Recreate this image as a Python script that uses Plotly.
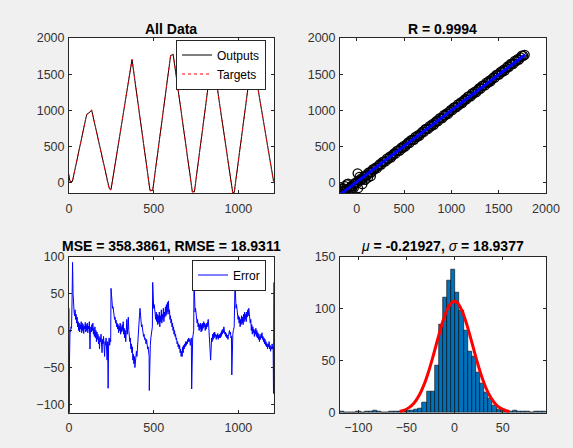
import plotly.graph_objects as go

# ---------------- data ----------------
# All Data: sample index vs. targets / outputs (vertices)
TS_X = [0, 6, 20, 104, 134, 238, 248, 372, 478, 494, 600, 615, 728, 740, 846, 966, 975, 1082, 1207, 1210]
TARGETS = [120, 15, 15, 947, 1007, -95, -95, 1706, -110, -110, 1765, 1780, -129, -129, 1780, -140, -140, 1770, 18, 60]
OUTPUTS = [90, 20, 18, 940, 1000, -80, -90, 1700, -100, -105, 1760, 1770, -120, -125, 1770, -130, -135, 1760, 30, 20]

# Error series: (sample index, error)
ERROR_SAMPLES = [
    (0, 30), (1, -111), (3, -40), (6, 0), (9, -2), (12, 5), (15, 3), (18, 40), (21, 92), (24, 50), (27, 30),
    (30, 25), (33, 20), (36, 28), (39, 15), (42, 22), (45, 10), (48, 18), (51, 5), (54, 12), (57, 0), (60, 10),
    (63, -2), (66, 8), (69, 2), (72, 12), (75, -3), (78, 10), (81, 0), (84, 8), (87, -4), (90, 6), (93, 2),
    (96, 11), (99, -2), (102, 8), (105, 0), (108, 10), (111, -3), (114, 6), (117, 2), (120, 12), (123, -8),
    (124, -25), (126, -5), (129, 5), (132, -2), (135, 8), (138, 0), (141, 10), (144, -5), (147, 3), (150, -8),
    (153, 5), (156, -10), (159, 0), (162, -15), (165, -2), (168, -12), (171, -5), (174, -18), (177, -8),
    (180, -25), (183, -10), (186, -15), (189, -5), (192, -20), (195, -30), (198, -12), (201, -18), (204, -8),
    (207, -22), (210, -35), (213, -15), (216, -20), (219, -10), (222, -25), (225, -40), (228, -15), (231, -78),
    (234, -18), (237, -10), (240, -20), (243, -12), (246, -15), (248, 57),
    (251, 45), (254, 38), (257, 30), (260, 32), (263, 22), (266, 25), (269, 15), (272, 18), (275, 10), (278, 14),
    (281, 5), (284, 10), (287, 2), (290, 8), (293, -3), (296, 6), (299, 0), (302, 10), (305, -5), (308, 5),
    (311, -2), (314, 8), (317, 0), (320, 12), (323, -5), (326, 3), (329, -10), (332, 0), (335, -15), (338, 5),
    (341, 15), (344, -5), (347, 10), (350, 18), (353, 0), (356, -8), (359, -15), (362, -10), (365, -25),
    (368, -18), (371, -30), (374, -22), (377, -40), (380, -32), (383, -45), (386, -35), (389, -50), (392, -38),
    (395, -42), (398, -28), (401, -35), (404, -20), (407, -25), (410, -10), (413, 5), (416, 20), (419, 30),
    (422, 18), (425, 12), (428, 5), (431, 8), (434, -2), (437, 0), (440, -8), (443, -5), (446, -12), (449, -10),
    (452, -15), (455, -18), (458, -12), (461, -20), (464, -25), (467, -22), (470, -30), (473, -35), (474, -81),
    (477, -25), (480, -20), (483, -10), (486, -5), (489, 0), (492, 5), (494, 65),
    (497, 40), (500, 30), (503, 35), (506, 22), (509, 28), (512, 15), (515, 25), (518, 12), (521, 22), (524, 8),
    (527, 20), (530, 10), (533, 25), (536, 5), (539, 20), (542, 12), (545, 28), (548, 10), (551, 22), (554, 15),
    (557, 30), (560, 12), (563, 25), (566, 18), (569, 32), (572, 20), (575, 35), (578, 22), (581, 38), (584, 25),
    (587, 40), (590, 22), (593, 28), (596, 15), (599, 20), (602, 10), (605, 15), (608, 5), (611, 10), (614, 0),
    (617, 5), (620, -5), (623, 0), (626, -8), (629, -5), (632, -12), (635, -10), (638, -18), (641, -15),
    (644, -22), (647, -18), (650, -25), (653, -20), (656, -30), (659, -25), (662, -35), (665, -28), (668, -35),
    (671, -22), (674, -30), (677, -20), (680, -25), (683, -18), (686, -22), (689, -15), (692, -20), (695, -15),
    (698, -18), (701, -12), (704, -15), (707, -10), (710, -15), (713, -12), (716, -20), (719, -15), (722, -10),
    (724, -79), (727, -20), (730, -10), (733, -5), (736, 0), (738, 70),
    (741, 40), (744, 25), (747, 30), (750, 18), (753, 22), (756, 10), (759, 15), (762, 5), (765, 10), (768, 0),
    (771, 8), (774, 2), (777, 10), (780, -2), (783, 8), (786, 0), (789, 10), (792, 3), (795, 12), (798, 5),
    (801, 10), (804, 0), (807, 8), (810, 2), (813, 10), (816, 5), (819, 12), (822, 15), (825, 5), (828, -10),
    (831, -20), (834, -30), (836, -40), (839, -25), (842, -10), (845, -15), (848, -5), (851, -12), (854, -3),
    (857, -10), (860, -2), (863, -8), (866, -5), (869, -12), (872, -6), (875, -10), (878, -4), (881, -12),
    (884, -6), (887, -10), (890, -5), (893, -10), (896, -3), (899, -8), (902, 0), (905, -5), (908, 2), (911, -3),
    (914, 5), (917, 0), (920, -5), (923, -2), (926, -8), (929, -4), (932, -10), (935, -6), (938, -12), (941, -8),
    (944, -5), (947, 0), (950, -5), (953, -2), (956, -10), (959, -8), (961, -60), (964, -10), (967, -5),
    (970, 0), (975, 5), (980, 65),
    (983, 40), (986, 30), (989, 35), (992, 22), (995, 28), (998, 15), (1001, 20), (1004, 10), (1007, 18),
    (1010, 5), (1013, 15), (1016, 8), (1019, 20), (1022, 10), (1025, 18), (1028, 8), (1031, 22), (1034, 12),
    (1037, 25), (1040, 15), (1043, 22), (1046, 12), (1049, 25), (1052, 18), (1055, 28), (1058, 20), (1061, 30),
    (1064, 18), (1067, 22), (1070, 10), (1073, 15), (1076, 0), (1079, 8), (1082, -5), (1085, 5), (1088, -3),
    (1091, 2), (1094, -8), (1097, 0), (1100, -5), (1103, 3), (1106, -8), (1109, 0), (1112, -10), (1115, -3),
    (1118, -12), (1121, -5), (1124, -15), (1127, -8), (1130, -12), (1133, -5), (1136, -10), (1139, -3),
    (1142, -12), (1145, -8), (1148, -15), (1151, -10), (1154, -18), (1157, -12), (1160, -20), (1163, -15),
    (1166, -22), (1169, -18), (1172, -25), (1175, -18), (1178, -22), (1181, -15), (1184, -25), (1187, -20),
    (1190, -28), (1193, -22), (1196, -25), (1199, -18), (1202, -25), (1205, -22), (1207, -85), (1209, 65),
]
ERR_X = [p[0] for p in ERROR_SAMPLES]
ERR_Y = [p[1] for p in ERROR_SAMPLES]

# Regression: targets vs outputs
REG_TARGETS = [
    -160, -145, -130, -115, -100, -85, -70, -55, -40, -25, -10, 5, 20, 35, 50, 65, 80, 95, 110, 125,
    140, 155, 170, 185, 200, 215, 230, 245, 260, 275, 290, 305, 320, 335, 350, 365, 380, 395, 410, 425,
    440, 455, 470, 485, 500, 515, 530, 545, 560, 575, 590, 605, 620, 635, 650, 665, 680, 695, 710, 725,
    740, 755, 770, 785, 800, 815, 830, 845, 860, 875, 890, 905, 920, 935, 950, 965, 980, 995, 1010, 1025,
    1040, 1055, 1070, 1085, 1100, 1115, 1130, 1145, 1160, 1175, 1190, 1205, 1220, 1235, 1250, 1265, 1280,
    1295, 1310, 1325, 1340, 1355, 1370, 1385, 1400, 1415, 1430, 1445, 1460, 1475, 1490, 1505, 1520, 1535,
    1550, 1565, 1580, 1595, 1610, 1625, 1640, 1655, 1670, 1685, 1700, 1715, 1730, 1745, 1760, 1775,
    -90, -105, -125, -138, -60, -30, 15, 10, 150, 120, -50, 60, -150, -120, 30, 90]
REG_OUTPUTS = [
    -154, -156, -117, -120, -91, -99, -67, -44, -48, -11, -4, -6, 33, 30, 59, 51, 83, 106, 102, 139,
    146, 144, 183, 180, 209, 201, 233, 256, 252, 289, 296, 294, 333, 330, 359, 351, 383, 406, 402, 439,
    446, 444, 483, 480, 509, 501, 533, 556, 552, 589, 596, 594, 633, 630, 659, 651, 683, 706, 702, 739,
    746, 744, 783, 780, 809, 801, 833, 856, 852, 889, 896, 894, 933, 930, 959, 951, 983, 1006, 1002, 1039,
    1046, 1044, 1083, 1080, 1109, 1101, 1133, 1156, 1152, 1189, 1196, 1194, 1233, 1230, 1259, 1251, 1283,
    1306, 1302, 1339, 1346, 1344, 1383, 1380, 1409, 1401, 1433, 1456, 1452, 1489, 1496, 1494, 1533, 1530,
    1559, 1551, 1583, 1606, 1602, 1639, 1646, 1644, 1683, 1680, 1709, 1701, 1733, 1756, 1752, 1768,
    -12, -24, -46, -78, -110, -70, -75, 130, 90, 70, -100, -20, -125, -90, 80, 40]
FIT_X = [-170, 1780]
FIT_Y = [-158, 1768]

# Histogram of errors (50 bins)
HIST_LEFT = -119.0
HIST_WIDTH = 4.28
HIST_COUNTS = [1, 0, 0, 0, 1, 0, 1, 1, 2, 1, 0, 0, 1, 1, 1, 1, 2, 2, 3, 4,
               10, 20, 20, 45, 85, 111, 127, 138, 115, 98, 79, 59, 54, 39, 28, 19, 14, 7, 3, 3,
               1, 1, 2, 1, 1, 1, 0, 1, 1, 1]
HIST_CENTERS = [HIST_LEFT + HIST_WIDTH * (k + 0.5) for k in range(len(HIST_COUNTS))]
# fitted normal curve
PDF_X = [-57, -52, -47, -42, -37, -32, -27, -22, -17, -12, -7, -2, 0, 3, 8, 13, 18, 23, 28, 33, 38, 43, 48, 53, 57]
PDF_Y = [1.2, 2.5, 5.1, 9.4, 16.2, 26.2, 39.4, 55.2, 72.3, 88.2, 100.4, 106.5, 107, 105.5, 97.4, 83.9, 67.4,
         50.5, 35.3, 23.0, 14.0, 7.9, 4.2, 2.1, 1.1]

TITLES = ["All Data", "R = 0.9994", "MSE = 358.3861, RMSE = 18.9311"]
MU_TXT = "-0.21927"
SIGMA_TXT = "18.9377"

# ---------------- figure ----------------
W, H = 573, 448
FONT = "Arial, 'Liberation Sans', Helvetica, sans-serif"
TICKFONT = dict(family=FONT, size=12.5, color="#333333")


def px_x(p):
    return p / W


def px_y(p):
    return 1 - p / H


def axis(domain, rng, tickvals, anchor, standoff):
    return dict(domain=domain, range=rng, tickvals=tickvals, anchor=anchor, automargin=False,
                showline=True, linecolor="#262626", linewidth=1, mirror="ticks",
                ticks="inside", ticklen=3, tickcolor="#262626", tickwidth=1, ticklabelstandoff=standoff,
                showgrid=False, zeroline=False, tickfont=TICKFONT, fixedrange=True)


fig = go.Figure()

# All Data
fig.add_trace(go.Scatter(x=TS_X, y=OUTPUTS, mode="lines", name="Outputs",
                         line=dict(color="black", width=1), xaxis="x", yaxis="y", legend="legend"))
fig.add_trace(go.Scatter(x=TS_X, y=TARGETS, mode="lines", name="Targets",
                         line=dict(color="#ff0000", width=1, dash="dot"), xaxis="x", yaxis="y", legend="legend"))

# Regression
fig.add_trace(go.Scatter(x=REG_TARGETS, y=REG_OUTPUTS, mode="markers", showlegend=False,
                         marker=dict(symbol="circle-open", size=9, color="black", line=dict(width=1.3)),
                         xaxis="x2", yaxis="y2"))
fig.add_trace(go.Scatter(x=FIT_X, y=FIT_Y, mode="lines", showlegend=False,
                         line=dict(color="#0000ff", width=3), xaxis="x2", yaxis="y2"))

# Error
fig.add_trace(go.Scatter(x=ERR_X, y=ERR_Y, mode="lines", name="Error",
                         line=dict(color="#0000ff", width=1), xaxis="x3", yaxis="y3", legend="legend2"))

# Histogram
fig.add_trace(go.Bar(x=HIST_CENTERS, y=HIST_COUNTS, width=HIST_WIDTH, showlegend=False,
                     marker=dict(color="#0072bd", line=dict(color="black", width=0.6)),
                     xaxis="x4", yaxis="y4"))
fig.add_trace(go.Scatter(x=PDF_X, y=PDF_Y, mode="lines", showlegend=False, line_shape="spline",
                         line=dict(color="#ff0000", width=3), xaxis="x4", yaxis="y4"))

dx_left = [px_x(69), px_x(274)]
dx_right = [px_x(340), px_x(546)]
dy_top = [px_y(193), px_y(38)]
dy_bot = [px_y(412.7), px_y(256.5)]

legend_common = dict(xanchor="right", yanchor="middle", bgcolor="white", bordercolor="#262626", borderwidth=1,
                     font=dict(family=FONT, size=12, color="black"), tracegroupgap=0)

fig.update_layout(
    width=W, height=H, margin=dict(l=0, r=0, t=0, b=0, pad=0, autoexpand=False), autosize=False,
    paper_bgcolor="#f0f0f0", plot_bgcolor="white",
    showlegend=True, bargap=0,
    xaxis=axis(dx_left, [0, 1210], [0, 500, 1000], "y", 4),
    yaxis=axis(dy_top, [-140, 2000], [0, 500, 1000, 1500, 2000], "x", 1),
    xaxis2=axis(dx_right, [-176, 2000], [0, 500, 1000, 1500, 2000], "y2", 4),
    yaxis2=axis(dy_top, [-142, 2000], [0, 500, 1000, 1500, 2000], "x2", 1),
    xaxis3=axis(dx_left, [0, 1210], [0, 500, 1000], "y3", 3),
    yaxis3=axis(dy_bot, [-111, 100], [-100, -50, 0, 50, 100], "x3", 1),
    xaxis4=axis(dx_right, [-119, 95], [-100, -50, 0, 50], "y4", 3),
    yaxis4=axis(dy_bot, [0, 150], [0, 50, 100, 150], "x4", 1),
    legend=dict(x=px_x(266), y=px_y(64.5), **legend_common),
    legend2=dict(x=px_x(266), y=px_y(275), **legend_common),
)

title_font = dict(family=FONT, size=14, color="black")
titles = [
    ((69 + 274) / 2, 29, "<b>%s</b>" % TITLES[0]),
    ((340 + 546) / 2, 29, "<b>%s</b>" % TITLES[1]),
    ((69 + 274) / 2, 245.8, "<b>%s</b>" % TITLES[2]),
    ((340 + 546) / 2, 245.8, "<i>μ</i><b> = %s, </b><i>σ</i><b> = %s</b>" % (MU_TXT, SIGMA_TXT)),
]
for cx, cy, txt in titles:
    fig.add_annotation(x=px_x(cx), y=px_y(cy), xref="paper", yref="paper", text=txt, showarrow=False,
                       xanchor="center", yanchor="middle", font=title_font)

fig.write_html("out.html", config={"displayModeBar": False},
               post_script="document.body.style.margin='0px';document.body.style.overflow='hidden';")
